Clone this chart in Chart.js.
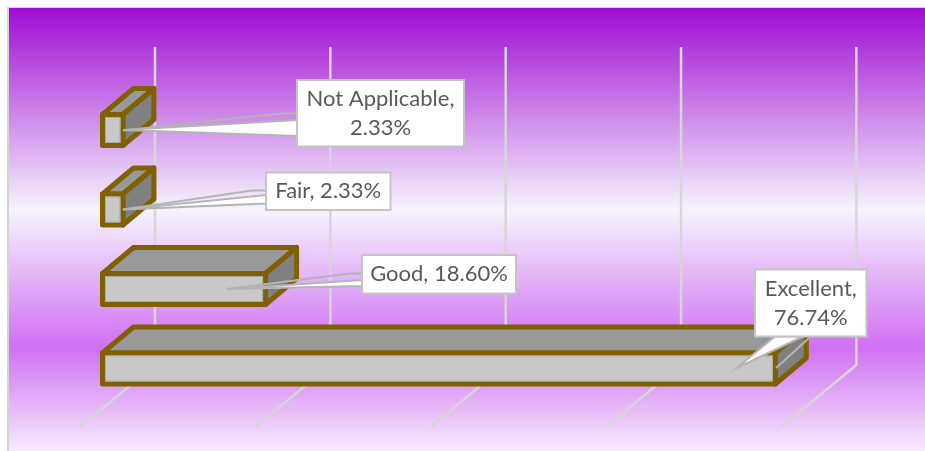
<!DOCTYPE html>
<html lang="en">
<head>
  <meta charset="UTF-8" />
  <title>Ratings</title>
  <script src="https://cdn.jsdelivr.net/npm/chart.js"></script>
  <style>
    html, body { margin: 0; padding: 0; background: #fff; overflow: hidden; }
    canvas { display: block; }
  </style>
</head>
<body>
  <canvas id="ratingChart" width="925" height="451"></canvas>
  <script>
    // bottom to top, as on the y axis
    const categories = ['Excellent', 'Good', 'Fair', 'Not Applicable'];
    const percents = [76.74, 18.60, 2.33, 2.33];
    const axisTicks = [0, 20, 40, 60, 80];

    // 3D look
    const depthX = 31, depthY = -26;
    const wallX = 52.5, wallTop = 47, wallBottom = 365;
    const floorX = -22, floorBottom = 426.5;
    const brown = '#806000';

    // callout boxes, one per bar: box corners, wedge base and leader elbow
    const callouts = [
      { box: [755, 269.5, 866.5, 336.5], lines: 2, tipDx: -38.6, tipDy: -0.5,
        wedge: [[775, 336.5], [803, 336.5]], leader: [[776, 368], [809, 338]] },
      { box: [362, 255, 516, 293.5], lines: 1, tipDx: -38.6, tipDy: 0,
        wedge: [[362, 280], [362, 286]], leader: [[227, 289], [350, 273.5], [362, 273.5]] },
      { box: [266, 172.5, 390.5, 210], lines: 1, tipDx: 0, tipDy: 0,
        wedge: [[266, 195], [266, 203.5]], leader: [[123, 209.5], [252, 190.5], [266, 190.5]] },
      { box: [297, 80, 464, 146.5], lines: 2, tipDx: 0, tipDy: 0,
        wedge: [[297, 120], [297, 136]], leader: [[123, 130.5], [280, 113.5], [297, 113.5]] }
    ];

    function poly(ctx, pts) {
      ctx.beginPath();
      pts.forEach((p, i) => i ? ctx.lineTo(p[0], p[1]) : ctx.moveTo(p[0], p[1]));
    }

    const threeD = {
      id: 'threeD',
      beforeDraw(chart) {
        const ctx = chart.ctx;
        const g = ctx.createLinearGradient(0, 8, 0, 451);
        g.addColorStop(0, '#a00cd4');
        g.addColorStop(0.456, '#f6f3fc');
        g.addColorStop(0.767, '#d070f2');
        g.addColorStop(1, '#f7ebfd');
        ctx.fillStyle = '#fff';
        ctx.fillRect(0, 0, 925, 451);
        ctx.fillStyle = g;
        ctx.fillRect(8, 8, 917, 443);
        ctx.fillStyle = '#d4d4d4';
        ctx.fillRect(7, 7, 918, 1);
        ctx.fillRect(7, 7, 2, 444);
      },
      beforeDatasetsDraw(chart) {
        const ctx = chart.ctx, x = chart.scales.x;
        ctx.save();
        // wall and floor grid
        ctx.strokeStyle = '#d6d6d6';
        ctx.lineWidth = 2.5;
        ctx.lineJoin = 'miter';
        axisTicks.forEach(t => {
          const px = x.getPixelForValue(t);
          poly(ctx, [[px + wallX, wallTop], [px + wallX, wallBottom], [px + floorX, floorBottom]]);
          ctx.stroke();
        });
        // top and side faces
        ctx.lineWidth = 5;
        ctx.lineJoin = 'round';
        ctx.strokeStyle = brown;
        chart.getDatasetMeta(0).data.slice().reverse().forEach(bar => {
          const l = bar.base, r = bar.x, t = bar.y - bar.height / 2, b = bar.y + bar.height / 2;
          poly(ctx, [[l, t], [l + depthX, t + depthY], [r + depthX, t + depthY], [r, t]]);
          ctx.closePath();
          ctx.fillStyle = '#999999';
          ctx.fill();
          ctx.stroke();
          poly(ctx, [[r, t], [r + depthX, t + depthY], [r + depthX, b + depthY], [r, b]]);
          ctx.closePath();
          ctx.fillStyle = '#808080';
          ctx.fill();
          ctx.stroke();
        });
        ctx.restore();
      },
      afterDatasetsDraw(chart) {
        const ctx = chart.ctx;
        const bars = chart.getDatasetMeta(0).data;
        ctx.save();
        // outline of the front faces
        bars.forEach(bar => {
          const l = bar.base, r = bar.x, t = bar.y - bar.height / 2;
          ctx.lineJoin = 'round';
          ctx.lineWidth = 5;
          ctx.strokeStyle = brown;
          ctx.strokeRect(l, t, r - l, bar.height);
          ctx.lineWidth = 1;
          ctx.strokeStyle = '#ababab';
          ctx.strokeRect(l + 3, t + 3, r - l - 6, bar.height - 6);
        });
        // callouts
        bars.forEach((bar, i) => {
          const c = callouts[i];
          const tip = [bar.x + c.tipDx, bar.y + c.tipDy];
          const [x0, y0, x1, y1] = c.box;
          ctx.lineJoin = 'miter';
          ctx.strokeStyle = '#b4b4b4';
          ctx.lineWidth = 2;
          poly(ctx, c.leader);
          ctx.stroke();
          poly(ctx, [tip, c.wedge[0], c.wedge[1]]);
          ctx.closePath();
          ctx.fillStyle = '#ffffff';
          ctx.fill();
          ctx.stroke();
          ctx.strokeStyle = '#c4c4c4';
          ctx.fillRect(x0, y0, x1 - x0, y1 - y0);
          ctx.strokeRect(x0, y0, x1 - x0, y1 - y0);
          const value = percents[i].toFixed(2) + '%';
          const name = categories[i] + ',';
          ctx.fillStyle = '#595959';
          ctx.font = '22px Lato';
          ctx.textAlign = 'center';
          ctx.textBaseline = 'middle';
          const cx = (x0 + x1) / 2, cy = (y0 + y1) / 2;
          if (c.lines === 2) {
            ctx.fillText(name, cx, cy - 14.5);
            ctx.fillText(value, cx, cy + 14.5);
          } else {
            ctx.fillText(name + ' ' + value, cx, cy);
          }
        });
        ctx.restore();
      }
    };

    new Chart(document.getElementById('ratingChart'), {
      type: 'bar',
      data: {
        labels: categories,
        datasets: [{
          data: percents,
          backgroundColor: '#c8c8c8',
          borderWidth: 0,
          barThickness: 31
        }]
      },
      options: {
        indexAxis: 'y',
        responsive: false,
        animation: false,
        layout: { padding: { left: 102.5, right: 121.1, top: 90.25, bottom: 42.75 } },
        plugins: { legend: { display: false }, tooltip: { enabled: false }, title: { display: false } },
        scales: {
          x: { display: false, min: 0, max: 80 },
          y: { display: false, reverse: true }
        }
      },
      plugins: [threeD]
    });
  </script>
</body>
</html>
